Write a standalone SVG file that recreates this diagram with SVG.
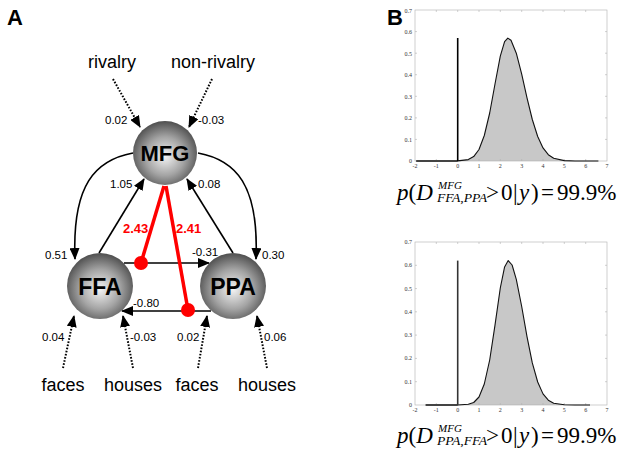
<svg xmlns="http://www.w3.org/2000/svg" width="625" height="452" viewBox="0 0 625 452">
<style>
.node-label{font-family:"Liberation Sans",Arial,sans-serif;font-weight:bold;font-size:22px;text-anchor:middle;fill:#000}
.input{font-family:"Liberation Sans",Arial,sans-serif;font-size:18px;text-anchor:middle;fill:#000}
.w{font-family:"Liberation Sans",Arial,sans-serif;font-size:11.5px;fill:#000}
.wr{font-family:"Liberation Sans",Arial,sans-serif;font-size:13px;font-weight:bold;fill:#ff0000}
.panel{font-family:"Liberation Sans",Arial,sans-serif;font-size:22px;font-weight:bold;fill:#000}
.solid{fill:none;stroke:#000;stroke-width:1.6;marker-end:url(#ah)}
.dot{fill:none;stroke:#000;stroke-width:2;stroke-dasharray:1.6 1.6;marker-end:url(#ah)}
.mod{stroke:#ff0000;stroke-width:3.5;fill:none}
.tick{font-family:"Liberation Serif","Times New Roman",serif;font-size:6px;fill:#333}
.frame{fill:none;stroke:#b0b0b0;stroke-width:0.6}
.tk{stroke:#b0b0b0;stroke-width:0.6}
.curve{fill:none;stroke:#111;stroke-width:1.1;stroke-linejoin:round}
.area{fill:#c8c8c8;stroke:none}
.eq{font-family:"Liberation Serif","Times New Roman",serif;fill:#000}
</style>
<defs>
<radialGradient id="sph" cx="0.5" cy="0.55" r="0.55" fx="0.5" fy="0.55">
<stop offset="0" stop-color="#f4f4f4"/>
<stop offset="0.55" stop-color="#a4a4a4"/>
<stop offset="1" stop-color="#4e4e4e"/>
</radialGradient>
<marker id="ah" markerUnits="userSpaceOnUse" markerWidth="12" markerHeight="10" refX="11" refY="5" orient="auto">
<path d="M0,0 L12,5 L0,10 z" fill="#000"/>
</marker>
</defs>

<text class="panel" x="7" y="25">A</text>
<text class="panel" x="387" y="25">B</text>

<g id="connectors">
<path class="dot" d="M113,79 L140,127"/>
<path class="dot" d="M212,79 L189,127"/>
<path class="solid" d="M133,153 C95,160 72,185 75,259"/>
<path class="solid" d="M198,153 C236,160 259,185 256,259"/>
<path class="solid" d="M99,253 L144,179"/>
<path class="solid" d="M233,253 L187,179"/>
<path class="solid" d="M124,263 L209,263"/>
<path class="solid" d="M211,311 L122,311"/>
<path class="dot" d="M63,368 L74,316"/>
<path class="dot" d="M133,368 L123,316"/>
<path class="dot" d="M198,368 L207,316"/>
<path class="dot" d="M267,368 L257,316"/>
<path class="mod" d="M164,186 L141,263"/>
<path class="mod" d="M166,186 L188,310"/>
<circle cx="141" cy="263" r="7" fill="#ff0000"/>
<circle cx="188" cy="310" r="7" fill="#ff0000"/>
<text class="w" x="105" y="124">0.02</text>
<text class="w" x="198" y="124">-0.03</text>
<text class="w" x="110" y="188">1.05</text>
<text class="w" x="198" y="188">0.08</text>
<text class="w" x="45" y="259">0.51</text>
<text class="w" x="262" y="259">0.30</text>
<text class="w" x="192" y="256">-0.31</text>
<text class="w" x="133" y="307">-0.80</text>
<text class="wr" x="123" y="233">2.43</text>
<text class="wr" x="176" y="233">2.41</text>
<text class="w" x="42" y="341">0.04</text>
<text class="w" x="130" y="341">-0.03</text>
<text class="w" x="177" y="341">0.02</text>
<text class="w" x="264" y="341">0.06</text>
</g>

<g id="node-MFG">
<circle cx="165" cy="153" r="32" fill="url(#sph)"/>
<text class="node-label" x="165" y="161">MFG</text>
</g>
<g id="node-FFA">
<circle cx="100" cy="286" r="33" fill="url(#sph)"/>
<text class="node-label" x="100" y="295" style="font-size:23px">FFA</text>
</g>
<g id="node-PPA">
<circle cx="233" cy="286" r="33" fill="url(#sph)"/>
<text class="node-label" x="233" y="295" style="font-size:23px">PPA</text>
</g>
<g id="in-rivalry"><text class="input" x="112" y="68">rivalry</text></g>
<g id="in-nonrivalry"><text class="input" x="213" y="68">non-rivalry</text></g>
<g id="in-faces1"><text class="input" x="63" y="391">faces</text></g>
<g id="in-houses1"><text class="input" x="133" y="391">houses</text></g>
<g id="in-faces2"><text class="input" x="197" y="391">faces</text></g>
<g id="in-houses2"><text class="input" x="267" y="391">houses</text></g>

<!-- Plot 1 -->
<g id="plot1">
<path class="area" d="M457.7,161 L457.7,160.9 L468.3,159.6 L473.7,156.6 L479.0,149.5 L484.3,135.5 L489.7,113.0 L495.0,84.0 L500.3,56.2 L504.6,41.6 L507.8,38.1 L511.0,40.3 L516.3,53.2 L521.7,74.1 L527.0,97.8 L532.3,119.5 L537.7,136.5 L543.0,147.9 L548.3,154.7 L553.7,158.3 L564.3,160.6 L575.0,161 Z"/>
<rect class="frame" x="415" y="10" width="192" height="151"/>
<path class="tk" d="M436.3,161v-2M457.7,161v-2M479,161v-2M500.3,161v-2M521.7,161v-2M543,161v-2M564.3,161v-2M585.7,161v-2M436.3,10v2M457.7,10v2M479,10v2M500.3,10v2M521.7,10v2M543,10v2M564.3,10v2M585.7,10v2M415,139.4h2M415,117.9h2M415,96.3h2M415,74.7h2M415,53.2h2M415,31.6h2M607,139.4h-2M607,117.9h-2M607,96.3h-2M607,74.7h-2M607,53.2h-2M607,31.6h-2"/>
<path class="curve" d="M416.3,161 L457.7,160.9 L468.3,159.6 L473.7,156.6 L479.0,149.5 L484.3,135.5 L489.7,113.0 L495.0,84.0 L500.3,56.2 L504.6,41.6 L507.8,38.1 L511.0,40.3 L516.3,53.2 L521.7,74.1 L527.0,97.8 L532.3,119.5 L537.7,136.5 L543.0,147.9 L548.3,154.7 L553.7,158.3 L564.3,160.6 L575.0,161 L598.4,161"/>
<path d="M416.3,161 L457.7,161" stroke="#444" stroke-width="1.8"/>
<path d="M457.7,161 L457.7,38" stroke="#000" stroke-width="1.6"/>
<g class="tick" text-anchor="end">
<text x="412" y="163">0</text><text x="412" y="141.5">0.1</text><text x="412" y="120">0.2</text><text x="412" y="98.5">0.3</text><text x="412" y="77">0.4</text><text x="412" y="55.5">0.5</text><text x="412" y="34">0.6</text><text x="412" y="12.5">0.7</text>
</g>
<g class="tick" text-anchor="middle">
<text x="415" y="168">-2</text><text x="436.3" y="168">-1</text><text x="457.7" y="168">0</text><text x="479" y="168">1</text><text x="500.3" y="168">2</text><text x="521.7" y="168">3</text><text x="543" y="168">4</text><text x="564.3" y="168">5</text><text x="585.7" y="168">6</text><text x="607" y="168">7</text>
</g>
<text class="eq" font-size="23"><tspan x="397" y="200" font-style="italic">p</tspan><tspan>(</tspan><tspan font-style="italic">D</tspan></text>
<text class="eq" font-size="11" font-style="italic" x="438" y="189">MFG</text>
<text class="eq" font-size="12.5" font-style="italic" x="437" y="202" textLength="50" lengthAdjust="spacingAndGlyphs">FFA,PPA</text>
<text class="eq" font-size="23" y="200"><tspan x="486">&gt;</tspan><tspan x="501">0</tspan><tspan x="513">|</tspan><tspan x="519" font-style="italic">y</tspan><tspan x="531">)</tspan><tspan x="541">=</tspan><tspan x="557">99.9%</tspan></text>
</g>

<!-- Plot 2 -->
<g id="plot2">
<path class="area" d="M457.7,405 L468.3,404.3 L473.7,402.5 L479.0,397.0 L484.3,384.0 L489.7,360.0 L495.0,325.1 L500.3,288.0 L504.6,266.9 L508.2,260.6 L512.1,265.0 L516.3,279.4 L521.7,306.5 L527.0,336.6 L532.3,362.9 L537.7,382.0 L543.0,393.9 L548.3,400.2 L553.7,403.2 L564.3,404.8 L575,405 Z"/>
<rect class="frame" x="415" y="242" width="192" height="163"/>
<path class="tk" d="M436.3,405v-2M457.7,405v-2M479,405v-2M500.3,405v-2M521.7,405v-2M543,405v-2M564.3,405v-2M585.7,405v-2M436.3,242v2M457.7,242v2M479,242v2M500.3,242v2M521.7,242v2M543,242v2M564.3,242v2M585.7,242v2M415,381.7h2M415,358.4h2M415,335.1h2M415,311.8h2M415,288.6h2M415,265.3h2M607,381.7h-2M607,358.4h-2M607,335.1h-2M607,311.8h-2M607,288.6h-2M607,265.3h-2"/>
<path class="curve" d="M425.7,405 L457.7,405 L468.3,404.3 L473.7,402.5 L479.0,397.0 L484.3,384.0 L489.7,360.0 L495.0,325.1 L500.3,288.0 L504.6,266.9 L508.2,260.6 L512.1,265.0 L516.3,279.4 L521.7,306.5 L527.0,336.6 L532.3,362.9 L537.7,382.0 L543.0,393.9 L548.3,400.2 L553.7,403.2 L564.3,404.8 L575,405 L590,405"/>
<path d="M425.7,405 L457.7,405" stroke="#444" stroke-width="1.8"/>
<path d="M457.7,405 L457.7,260.6" stroke="#333" stroke-width="1.6"/>
<g class="tick" text-anchor="end">
<text x="412" y="407">0</text><text x="412" y="383.7">0.1</text><text x="412" y="360.4">0.2</text><text x="412" y="337.1">0.3</text><text x="412" y="313.8">0.4</text><text x="412" y="290.6">0.5</text><text x="412" y="267.3">0.6</text><text x="412" y="244">0.7</text>
</g>
<g class="tick" text-anchor="middle">
<text x="415" y="412">-2</text><text x="436.3" y="412">-1</text><text x="457.7" y="412">0</text><text x="479" y="412">1</text><text x="500.3" y="412">2</text><text x="521.7" y="412">3</text><text x="543" y="412">4</text><text x="564.3" y="412">5</text><text x="585.7" y="412">6</text><text x="607" y="412">7</text>
</g>
<text class="eq" font-size="23"><tspan x="397" y="443" font-style="italic">p</tspan><tspan>(</tspan><tspan font-style="italic">D</tspan></text>
<text class="eq" font-size="11" font-style="italic" x="438" y="432">MFG</text>
<text class="eq" font-size="12.5" font-style="italic" x="437" y="445" textLength="50" lengthAdjust="spacingAndGlyphs">PPA,FFA</text>
<text class="eq" font-size="23" y="443"><tspan x="486">&gt;</tspan><tspan x="501">0</tspan><tspan x="513">|</tspan><tspan x="519" font-style="italic">y</tspan><tspan x="531">)</tspan><tspan x="541">=</tspan><tspan x="557">99.9%</tspan></text>
</g>
</svg>
